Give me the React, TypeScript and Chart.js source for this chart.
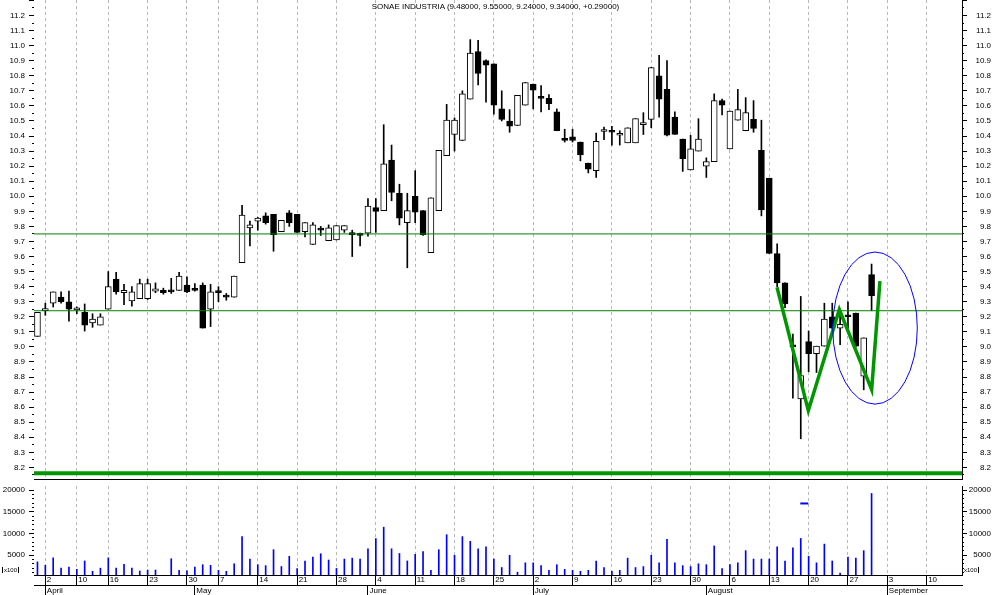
import React, { useEffect, useRef } from "react";
import { Chart, registerables } from "chart.js";

Chart.register(...registerables);

// ---------------- DATA ----------------
const TITLE = "SONAE INDUSTRIA (9.48000, 9.55000, 9.24000, 9.34000, +0.29000)";

// trading days 30 Mar 2007 .. 30 Aug 2007 (index 0..106)
const OPEN = [
  9.07, 9.24, 9.29, 9.33, 9.30, 9.245, 9.23, 9.16, 9.145, 9.25,
  9.45, 9.36, 9.305, 9.32, 9.32, 9.37, 9.375, 9.37, 9.375, 9.41,
  9.385, 9.41, 9.25, 9.365, 9.33, 9.33, 9.56, 9.79, 9.835, 9.87,
  9.88, 9.765, 9.89, 9.88, 9.765, 9.68, 9.775, 9.705, 9.71, 9.775,
  9.75, 9.74, 9.755, 9.925, 9.905, 10.24, 10.02, 9.825, 10.0, 9.905,
  9.625, 9.905, 10.27, 10.41, 10.37, 10.645, 10.96, 10.9, 10.88, 10.58,
  10.5, 10.47, 10.605, 10.745, 10.655, 10.65, 10.56, 10.385, 10.395, 10.36,
  10.22, 10.17, 10.43, 10.435, 10.405, 10.355, 10.355, 10.475, 10.51, 10.8,
  10.71, 10.525, 10.38, 10.175, 10.3, 10.2, 10.23, 10.635, 10.315, 10.505,
  10.435, 10.51, 10.305, 10.12, 9.62, 9.425, 9.005, 8.655, 9.035, 8.955,
  9.005, 9.2, 9.125, 9.205, 9.225, 8.805, 9.48,
];
const HIGH = [
  9.23, 9.29, 9.365, 9.365, 9.37, 9.265, 9.285, 9.22, 9.22, 9.5,
  9.495, 9.415, 9.4, 9.45, 9.45, 9.425, 9.39, 9.455, 9.495, 9.465,
  9.42, 9.425, 9.415, 9.4, 9.355, 9.47, 9.94, 9.835, 9.86, 9.89,
  9.88, 9.84, 9.905, 9.88, 9.825, 9.825, 9.8, 9.81, 9.805, 9.805,
  9.775, 9.755, 9.985, 9.985, 10.475, 10.34, 10.08, 10.02, 10.17, 9.905,
  9.99, 10.305, 10.61, 10.52, 10.7, 11.04, 11.035, 10.905, 10.88, 10.7,
  10.575, 10.67, 10.755, 10.745, 10.735, 10.675, 10.58, 10.445, 10.445, 10.36,
  10.22, 10.42, 10.46, 10.465, 10.435, 10.455, 10.515, 10.555, 10.855, 10.935,
  10.9, 10.56, 10.38, 10.405, 10.515, 10.255, 10.68, 10.645, 10.565, 10.71,
  10.655, 10.635, 10.505, 10.12, 9.685, 9.425, 9.085, 9.335, 9.105, 9.005,
  9.29, 9.29, 9.225, 9.3, 9.225, 9.06, 9.55,
];
const LOW = [
  9.07, 9.21, 9.265, 9.29, 9.17, 9.22, 9.105, 9.13, 9.145, 9.25,
  9.35, 9.28, 9.27, 9.32, 9.315, 9.36, 9.35, 9.355, 9.375, 9.36,
  9.37, 9.125, 9.135, 9.3, 9.31, 9.33, 9.56, 9.67, 9.775, 9.815,
  9.635, 9.765, 9.8, 9.76, 9.73, 9.68, 9.74, 9.705, 9.71, 9.76,
  9.6, 9.67, 9.735, 9.76, 9.905, 9.97, 9.81, 9.525, 9.825, 9.74,
  9.625, 9.905, 10.27, 10.3, 10.37, 10.645, 10.74, 10.625, 10.545, 10.5,
  10.425, 10.47, 10.605, 10.58, 10.56, 10.575, 10.435, 10.36, 10.36, 10.235,
  10.155, 10.125, 10.375, 10.34, 10.34, 10.355, 10.355, 10.41, 10.455, 10.525,
  10.4, 10.41, 10.165, 10.175, 10.3, 10.125, 10.23, 10.54, 10.315, 10.505,
  10.435, 10.425, 9.87, 9.62, 9.4, 9.26, 8.66, 8.39, 8.835, 8.83,
  9.005, 9.12, 9.015, 9.125, 9.0, 8.715, 9.24,
];
const CLOSE = [
  9.23, 9.255, 9.365, 9.3, 9.25, 9.26, 9.145, 9.185, 9.2, 9.4,
  9.365, 9.375, 9.365, 9.42, 9.42, 9.385, 9.36, 9.365, 9.47, 9.365,
  9.375, 9.125, 9.365, 9.36, 9.33, 9.47, 9.875, 9.81, 9.855, 9.825,
  9.745, 9.84, 9.825, 9.76, 9.825, 9.81, 9.775, 9.79, 9.805, 9.805,
  9.745, 9.74, 9.935, 9.9, 10.215, 10.025, 9.855, 9.905, 9.895, 9.745,
  9.99, 10.305, 10.505, 10.505, 10.68, 10.95, 10.815, 10.87, 10.605, 10.51,
  10.465, 10.67, 10.755, 10.705, 10.65, 10.615, 10.435, 10.37, 10.37, 10.275,
  10.18, 10.365, 10.435, 10.425, 10.41, 10.455, 10.515, 10.49, 10.855, 10.645,
  10.405, 10.41, 10.25, 10.315, 10.38, 10.23, 10.635, 10.605, 10.565, 10.575,
  10.555, 10.45, 9.91, 9.62, 9.425, 9.285, 9.0, 8.81, 8.955, 9.005,
  9.185, 9.125, 9.15, 9.2, 9.005, 9.06, 9.34,
];
// volume, in hundreds of shares
const VOLUME = [
  3420, 2620, 4350, 1970, 2190, 1690, 3630, 1250, 1970, 4350,
  1970, 2840, 1970, 1330, 1540, 1540, 0, 4140, 1470, 1330,
  2190, 2770, 2620, 1470, 1250, 2980, 9250, 4070, 2770, 2550,
  6230, 2340, 4710, 1900, 3630, 4500, 5290, 3850, 1900, 4070,
  4280, 4070, 6440, 8820, 11420, 6440, 5360, 3630, 5150, 5790,
  1470, 6230, 9690, 4930, 9250, 8170, 6440, 6880, 4070, 2120,
  4930, 1040, 3200, 3200, 2550, 1470, 2770, 1690, 1470, 1250,
  1470, 3630, 2120, 1250, 1470, 4280, 2120, 2340, 4930, 3200,
  8610, 3200, 2550, 2340, 2980, 2770, 7090, 1900, 2770, 3200,
  6010, 4070, 4070, 4070, 6880, 3630, 6660, 8820, 4710, 3200,
  7520, 3630, 820, 4500, 4280, 6010, 19200,
];

const WEEK_TICK_INDEX = [1, 5, 9, 14, 19, 23, 28, 33, 38, 43, 48, 53, 58, 63, 68, 73, 78, 83, 88, 93, 98, 103, 108, 113];
const WEEK_TICK_LABELS = ["2", "10", "16", "23", "30", "7", "14", "21", "28", "4", "11", "18", "25", "2", "9", "16", "23", "30", "6", "13", "20", "27", "3", "10"];
const MONTH_TICK_INDEX = [1, 20, 42, 63, 85, 108];
const MONTH_TICK_LABELS = ["April", "May", "June", "July", "August", "September"];

const X_MIN = -0.44;
const X_MAX = 117.49;
const PRICE_MIN = 8.123;
const PRICE_MAX = 11.303;
const VOL_MIN = 390;
const VOL_MAX = 20930;

const RESISTANCE = 9.75;
const SUPPORT = 9.24;
const FLOOR = 8.161;

const W_PATTERN_X = [93.98, 97.96, 101.9, 106.01, 107.06];
const W_PATTERN_Y = [9.396, 8.577, 9.248, 8.716, 9.436];

const ELLIPSE = { xMin: 101.06, xMax: 111.81, yMin: 8.62, yMax: 9.63 };
const VOL_MARKER = { x: 97.45, y: 16900 };

// ---------------- HELPERS ----------------
const FONT = { family: "'Liberation Sans', Arial, sans-serif", size: 8, lineHeight: 1 };

function steps(start: number, end: number, step: number): number[] {
  const out: number[] = [];
  const n = Math.round((end - start) / step);
  for (let i = 0; i <= n; i++) out.push(Math.round((start + i * step) * 1000) / 1000);
  return out;
}

function resetPad(s: any) {
  s.paddingTop = 0;
  s.paddingBottom = 0;
  s.paddingLeft = 0;
  s.paddingRight = 0;
}

function yAxis(
  position: "left" | "right",
  min: number,
  max: number,
  tickValues: number[],
  major: boolean,
  width: number,
  border: boolean,
  label?: (v: number) => string
) {
  return {
    type: "linear",
    position,
    min,
    max,
    bounds: "data",
    weight: major ? 1 : 0,
    afterBuildTicks: (s: any) => {
      s.ticks = tickValues.map((v) => ({ value: v }));
    },
    afterFit: (s: any) => {
      s.width = width;
      resetPad(s);
    },
    grid: {
      drawOnChartArea: false,
      drawTicks: true,
      tickLength: major ? 5 : 2,
      tickColor: "#000",
      color: "#000",
      lineWidth: 1,
    },
    border: { display: border, color: "#000", width: 1 },
    ticks: {
      display: major,
      autoSkip: false,
      font: FONT,
      color: "#000",
      padding: 4,
      crossAlign: position === "right" ? "far" : "near",
      callback: (v: any) => (label ? label(Number(v)) : ""),
    },
  };
}

function xAxisBase(tickIdx: number[]) {
  return {
    type: "linear",
    min: X_MIN,
    max: X_MAX,
    bounds: "data",
    offset: false,
    position: "bottom",
    afterBuildTicks: (s: any) => {
      s.ticks = tickIdx.map((v) => ({ value: v }));
    },
  };
}

const ellipsePlugin = {
  id: "ellipseMark",
  afterDatasetsDraw(chart: any) {
    const xs = chart.scales.x;
    const ys = chart.scales.y;
    const x1 = xs.getPixelForValue(ELLIPSE.xMin);
    const x2 = xs.getPixelForValue(ELLIPSE.xMax);
    const y1 = ys.getPixelForValue(ELLIPSE.yMax);
    const y2 = ys.getPixelForValue(ELLIPSE.yMin);
    const ctx = chart.ctx;
    ctx.save();
    ctx.strokeStyle = "#0000ff";
    ctx.lineWidth = 1;
    ctx.beginPath();
    ctx.ellipse((x1 + x2) / 2, (y1 + y2) / 2, (x2 - x1) / 2, (y2 - y1) / 2, 0, 0, Math.PI * 2);
    ctx.stroke();
    ctx.restore();
  },
};

const COMMON = {
  animation: false,
  responsive: false,
  devicePixelRatio: 1,
  events: [],
  layout: { padding: { left: 0, right: 3, top: 0, bottom: 0 } },
  plugins: { legend: { display: false }, tooltip: { enabled: false }, title: { display: false } },
};

function PriceChart() {
  const ref = useRef<HTMLCanvasElement>(null);
  useEffect(() => {
    if (!ref.current) return;
    const idx = OPEN.map((_, i) => i);
    const hline = (v: number, color: string, w: number) => ({
      type: "line",
      data: [
        { x: X_MIN, y: v },
        { x: X_MAX, y: v },
      ],
      borderColor: color,
      borderWidth: w,
      pointRadius: 0,
      order: 1,
    });
    const majorTicks = steps(8.2, 11.3, 0.1);
    const minorTicks = steps(8.15, 11.25, 0.1);
    const lbl = (v: number) => (v > 11.25 ? "" : v.toFixed(1));
    const chart = new Chart(ref.current, {
      type: "bar",
      data: {
        datasets: [
          {
            type: "line",
            data: W_PATTERN_X.map((x, i) => ({ x, y: W_PATTERN_Y[i] })),
            borderColor: "#009600",
            borderWidth: 3.5,
            pointRadius: 0,
            order: 0,
          },
          hline(RESISTANCE, "#008000", 1),
          hline(SUPPORT, "#008000", 1),
          hline(FLOOR, "#009600", 4),
          {
            type: "bar",
            data: idx.map((i) => ({ x: i, y: [Math.min(OPEN[i], CLOSE[i]), Math.max(OPEN[i], CLOSE[i])] })),
            backgroundColor: idx.map((i) => (CLOSE[i] > OPEN[i] ? "#ffffff" : "#000000")),
            borderColor: "#000000",
            borderWidth: 1,
            borderSkipped: false,
            barThickness: 6,
            minBarLength: 2,
            grouped: false,
            order: 2,
          },
          {
            type: "bar",
            data: idx.map((i) => ({ x: i, y: [LOW[i], HIGH[i]] })),
            backgroundColor: "#000000",
            borderWidth: 0,
            barThickness: 1,
            grouped: false,
            order: 3,
          },
        ],
      } as any,
      options: {
        ...COMMON,
        scales: {
          x: {
            ...xAxisBase(WEEK_TICK_INDEX),
            afterFit: (s: any) => {
              s.height = 1;
              resetPad(s);
            },
            grid: { color: "#b8b8b8", drawTicks: false, lineWidth: 1, offset: false },
            border: { display: true, color: "#000", dash: [3, 3] },
            ticks: { display: false, autoSkip: false },
          },
          y: yAxis("left", PRICE_MIN, PRICE_MAX, majorTicks, true, 34, false, lbl),
          yMinor: yAxis("left", PRICE_MIN, PRICE_MAX, minorTicks, false, 0, false),
          yR: yAxis("right", PRICE_MIN, PRICE_MAX, majorTicks, true, 29, true, lbl),
          yRMinor: yAxis("right", PRICE_MIN, PRICE_MAX, minorTicks, false, 0, false),
        },
      } as any,
      plugins: [ellipsePlugin],
    });
    return () => chart.destroy();
  }, []);
  return <canvas ref={ref} width={994} height={480} style={{ display: "block" }} />;
}

function VolumeChart() {
  const ref = useRef<HTMLCanvasElement>(null);
  useEffect(() => {
    if (!ref.current) return;
    const idx = VOLUME.map((_, i) => i);
    const majorTicks = steps(5000, 20000, 5000);
    const minorTicks = steps(1000, 20000, 1000);
    const lbl = (v: number) => String(Math.round(v));
    const chart = new Chart(ref.current, {
      type: "bar",
      data: {
        datasets: [
          {
            type: "scatter",
            data: [VOL_MARKER],
            pointStyle: "line",
            pointRadius: 4,
            borderColor: "#0000ff",
            backgroundColor: "#0000ff",
            borderWidth: 2,
            order: 0,
          },
          {
            type: "bar",
            data: idx.map((i) => ({ x: i, y: VOLUME[i] })),
            backgroundColor: "#0000ff",
            borderWidth: 0,
            barThickness: 1,
            grouped: false,
            order: 1,
          },
        ],
      } as any,
      options: {
        ...COMMON,
        scales: {
          x: {
            ...xAxisBase(WEEK_TICK_INDEX),
            weight: 0,
            afterFit: (s: any) => {
              s.height = 10;
              resetPad(s);
            },
            grid: { color: "#b8b8b8", drawTicks: true, tickLength: 10, tickColor: "#000", tickBorderDash: [], lineWidth: 1, offset: false },
            border: { display: true, color: "#000", dash: [3, 3] },
            ticks: {
              autoSkip: false,
              maxRotation: 0,
              minRotation: 0,
              align: "start",
              labelOffset: 1.5,
              padding: -9,
              font: FONT,
              color: "#000",
              callback: (_v: any, i: number) => WEEK_TICK_LABELS[i],
            },
          },
          x2: {
            ...xAxisBase(MONTH_TICK_INDEX),
            weight: 1,
            afterFit: (s: any) => {
              s.height = 10;
              resetPad(s);
            },
            grid: { drawOnChartArea: false, drawTicks: true, tickLength: 10, tickColor: "#000", color: "#000", offset: false },
            border: { display: true, color: "#000" },
            ticks: {
              autoSkip: false,
              maxRotation: 0,
              minRotation: 0,
              align: "start",
              labelOffset: 1.5,
              padding: -8.5,
              font: FONT,
              color: "#000",
              callback: (_v: any, i: number) => MONTH_TICK_LABELS[i],
            },
          },
          y: yAxis("left", VOL_MIN, VOL_MAX, majorTicks, true, 34, false, lbl),
          yMinor: yAxis("left", VOL_MIN, VOL_MAX, minorTicks, false, 0, false),
          yR: yAxis("right", VOL_MIN, VOL_MAX, majorTicks, true, 29, true, lbl),
          yRMinor: yAxis("right", VOL_MIN, VOL_MAX, minorTicks, false, 0, false),
        },
      } as any,
    });
    return () => chart.destroy();
  }, []);
  return <canvas ref={ref} width={994} height={115} style={{ display: "block" }} />;
}

export default function App() {
  const small: React.CSSProperties = {
    position: "absolute",
    fontFamily: "'Liberation Sans', Arial, sans-serif",
    fontSize: "6px",
    lineHeight: "6px",
    color: "#000",
    borderLeft: "1px solid #000",
    borderRight: "1px solid #000",
    padding: "0 1px",
    whiteSpace: "nowrap",
  };
  return (
    <div style={{ position: "absolute", left: 0, top: 0, width: 994, height: 595, background: "#fff", overflow: "hidden" }}>
      <div style={{ position: "absolute", left: 0, top: 0 }}>
        <PriceChart />
      </div>
      <div style={{ position: "absolute", left: 0, top: 480 }}>
        <VolumeChart />
      </div>
      <div
        style={{
          position: "absolute",
          left: 0,
          top: 3,
          width: 991,
          textAlign: "center",
          fontFamily: "'Liberation Sans', Arial, sans-serif",
          fontSize: "8px",
          lineHeight: "8px",
          color: "#000",
          whiteSpace: "nowrap",
        }}
      >
        {TITLE}
      </div>
      <div style={{ ...small, left: 2, top: 567 }}>x100</div>
      <div style={{ ...small, left: 962, top: 567 }}>x100</div>
    </div>
  );
}
